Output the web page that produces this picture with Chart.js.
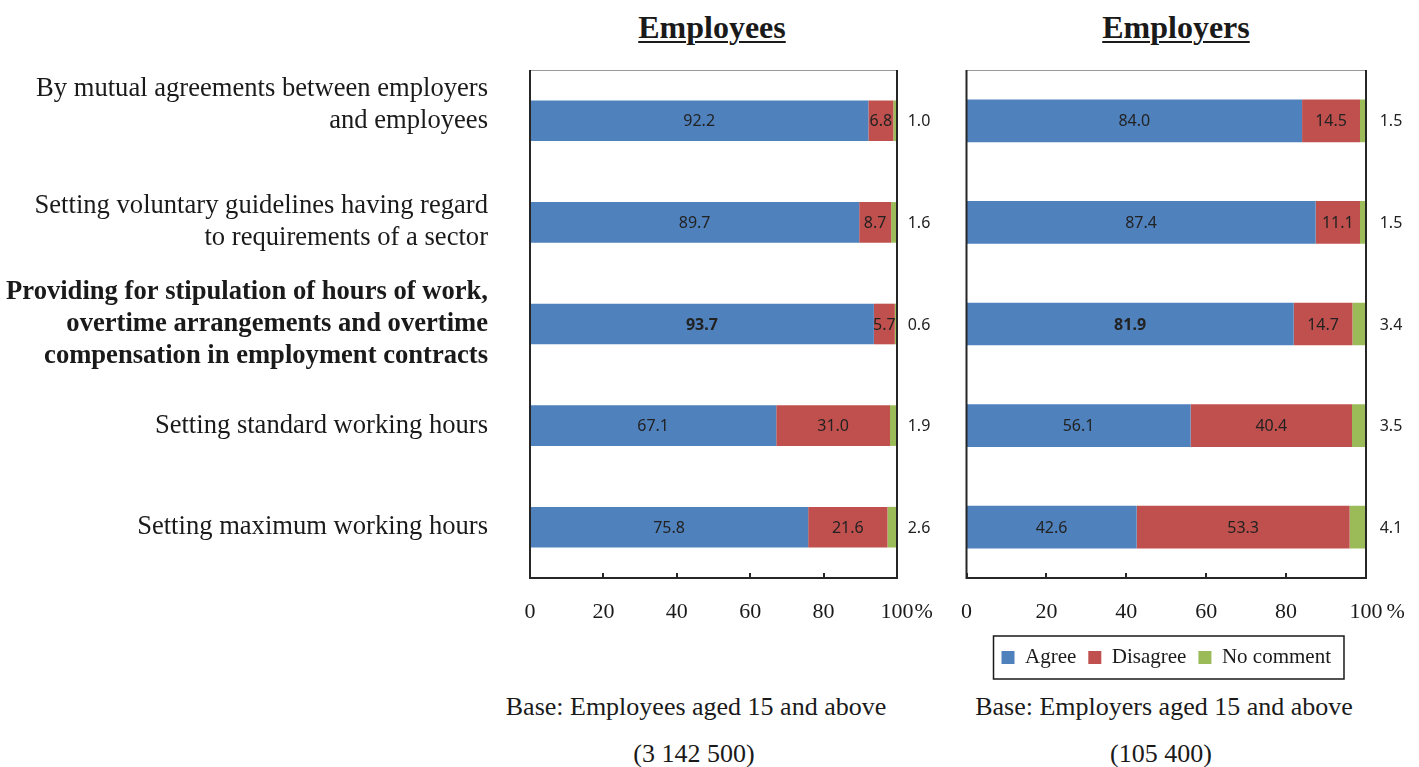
<!DOCTYPE html>
<html>
<head>
<meta charset="utf-8">
<script src="https://cdn.jsdelivr.net/npm/chart.js@4.4.1/dist/chart.umd.min.js"></script>
<style>
  body { margin: 0; background: #fff; width: 1419px; height: 767px; overflow: hidden; position: relative;
         font-family: "Liberation Serif", "Times New Roman", serif; color: #1a1a1a; }
  .box { position: absolute; }
  .title { position: absolute; top: 7px; width: 300px; text-align: center; font-weight: bold;
           font-size: 32px; line-height: 40px; text-decoration: underline; text-decoration-thickness: 2px; text-underline-offset: 3px; }
  .note { position: absolute; width: 500px; text-align: center; font-size: 26px; line-height: 32px; }
</style>
</head>
<body>
<div class="title" style="left:562px">Employees</div>
<div class="title" style="left:1026px">Employers</div>

<div class="box" style="left:0;top:60px;width:940px;height:580px"><canvas id="employeesChart"></canvas></div>
<div class="box" style="left:940px;top:60px;width:479px;height:624px"><canvas id="employersChart"></canvas></div>

<div class="note" style="left:446px;top:691px">Base: Employees aged 15 and above</div>
<div class="note" style="left:444px;top:738px">(3 142 500)</div>
<div class="note" style="left:914px;top:691px">Base: Employers aged 15 and above</div>
<div class="note" style="left:911px;top:738px">(105 400)</div>

<script>
const categories = [
  ['By mutual agreements between employers', 'and employees'],
  ['Setting voluntary guidelines having regard', 'to requirements of a sector'],
  ['Providing for stipulation of hours of work,', 'overtime arrangements and overtime', 'compensation in employment contracts'],
  'Setting standard working hours',
  'Setting maximum working hours'
];
const seriesNames = ['Agree', 'Disagree', 'No comment'];
const employeesAgree = [92.2, 89.7, 93.7, 67.1, 75.8];
const employeesDisagree = [6.8, 8.7, 5.7, 31.0, 21.6];
const employeesNoComment = [1.0, 1.6, 0.6, 1.9, 2.6];
const employersAgree = [84.0, 87.4, 81.9, 56.1, 42.6];
const employersDisagree = [14.5, 11.1, 14.7, 40.4, 53.3];
const employersNoComment = [1.5, 1.5, 3.4, 3.5, 4.1];
const xTickValues = [0, 20, 40, 60, 80, 100];
const boldRow = 2;

const colors = ['#4F81BD', '#C0504D', '#9BBB59'];
const serif = '"Liberation Serif", "Times New Roman", serif';
const textColor = '#1a1a1a';

// value labels, frame, inner ticks, "%" and the legend box
const decor = {
  id: 'decor',
  afterDatasetsDraw(chart, args, opts) {
    const ctx = chart.ctx;
    const area = chart.chartArea;
    ctx.save();
    ctx.textAlign = 'center';
    ctx.textBaseline = 'middle';
    ctx.fillStyle = '#222';
    chart.data.datasets.forEach((ds, i) => {
      chart.getDatasetMeta(i).data.forEach((bar, j) => {
        const bold = i === 0 && j === boldRow;
        ctx.font = (bold ? 'bold ' : '') + '16px "Noto Sans", sans-serif';
        const x = i === 2 ? area.right + opts.outside : (bar.x + bar.base) / 2;
        ctx.fillText(ds.data[j].toFixed(1), x, bar.y + 1);
      });
    });
    ctx.restore();
  },
  afterDraw(chart, args, opts) {
    const ctx = chart.ctx;
    const a = chart.chartArea;
    const xs = chart.scales.x;
    ctx.save();
    ctx.strokeStyle = '#999';
    ctx.lineWidth = 1;
    ctx.beginPath(); ctx.moveTo(a.left, a.top + 0.5); ctx.lineTo(a.right, a.top + 0.5); ctx.stroke();
    ctx.strokeStyle = '#262626';
    ctx.lineWidth = 2;
    ctx.beginPath();
    ctx.moveTo(a.left, a.top); ctx.lineTo(a.left, a.bottom);
    ctx.moveTo(a.right, a.top); ctx.lineTo(a.right, a.bottom);
    ctx.moveTo(a.left - 1, a.bottom); ctx.lineTo(a.right + 1, a.bottom);
    xs.ticks.forEach(t => {
      const px = Math.round(xs.getPixelForValue(t.value));
      ctx.moveTo(px, a.bottom); ctx.lineTo(px, a.bottom - 5);
    });
    ctx.stroke();

    // percent sign after the last tick label
    const items = xs.getLabelItems();
    const last = items[items.length - 1];
    if (last) {
      ctx.font = last.font.string;
      ctx.fillStyle = textColor;
      const w = ctx.measureText(String(last.label)).width;
      ctx.textAlign = 'left';
      ctx.textBaseline = last.options.textBaseline;
      ctx.fillText('%', last.options.translation[0] + w / 2 + opts.pctGap, last.options.translation[1] + last.textOffset);
    }

    if (chart.legend && chart.options.plugins.legend.display) {
      const hb = chart.legend.legendHitBoxes;
      const left = Math.min(...hb.map(h => h.left));
      const right = Math.max(...hb.map(h => h.left + h.width));
      const cy = hb[0].top + hb[0].height / 2;
      ctx.strokeStyle = '#1a1a1a';
      ctx.lineWidth = 1.5;
      ctx.strokeRect(left - 8, cy - 21.5, right - left + 21, 43);
    }
    ctx.restore();
  }
};

function makeDatasets(agree, disagree, noComment) {
  return [agree, disagree, noComment].map((d, i) => ({
    label: seriesNames[i],
    data: d,
    backgroundColor: colors[i],
    borderWidth: 0
  }));
}

function makeChart(id, cfg) {
  return new Chart(document.getElementById(id), {
    type: 'bar',
    data: { labels: categories, datasets: makeDatasets(...cfg.data) },
    plugins: [decor],
    options: {
      indexAxis: 'y',
      responsive: true,
      maintainAspectRatio: false,
      animation: false,
      datasets: { bar: { barPercentage: cfg.barPct, categoryPercentage: 1 } },
      layout: { padding: { top: 10, right: cfg.padRight, left: 0, bottom: cfg.padBottom } },
      scales: {
        x: {
          stacked: true, min: 0, max: 100,
          afterBuildTicks: s => { s.ticks = xTickValues.map(v => ({ value: v })); },
          afterFit: s => { s.height = cfg.xHeight; },
          grid: { display: false, drawTicks: false },
          border: { display: false },
          ticks: { padding: 21, color: textColor, font: { family: serif, size: 22 } }
        },
        y: {
          stacked: true,
          // first label sits a line higher than its bar in the original
          afterTickToLabelConversion: s => {
            const t = s.ticks[0];
            if (t && Array.isArray(t.label)) t.label = t.label.concat(['']);
          },
          afterFit: s => { s.width = cfg.yWidth; s.paddingTop = 0; s.paddingBottom = 0; },
          grid: { display: false, drawTicks: false },
          border: { display: false },
          ticks: {
            display: cfg.showLabels,
            padding: 42,
            color: textColor,
            font: ctx => ({ family: serif, size: 26.6, lineHeight: 1.2, weight: ctx.index === boldRow ? 'bold' : 'normal' })
          }
        }
      },
      plugins: {
        legend: {
          display: cfg.legend,
          position: 'bottom',
          fullSize: false,
          labels: { boxWidth: 13, boxHeight: 13, padding: 12, color: textColor, font: { family: serif, size: 21 } }
        },
        tooltip: { enabled: false },
        decor: { outside: cfg.outside, pctGap: cfg.pctGap }
      }
    }
  });
}

makeChart('employeesChart', {
  data: [employeesAgree, employeesDisagree, employeesNoComment],
  barPct: 0.4, padRight: 43, padBottom: 0, xHeight: 62, yWidth: 530, showLabels: true,
  legend: false, outside: 22, pctGap: 1
});
makeChart('employersChart', {
  data: [employersAgree, employersDisagree, employersNoComment],
  barPct: 0.42, padRight: 53, padBottom: 6, xHeight: 57, yWidth: 25, showLabels: false,
  legend: true, outside: 25, pctGap: 4
});
</script>
</body>
</html>
